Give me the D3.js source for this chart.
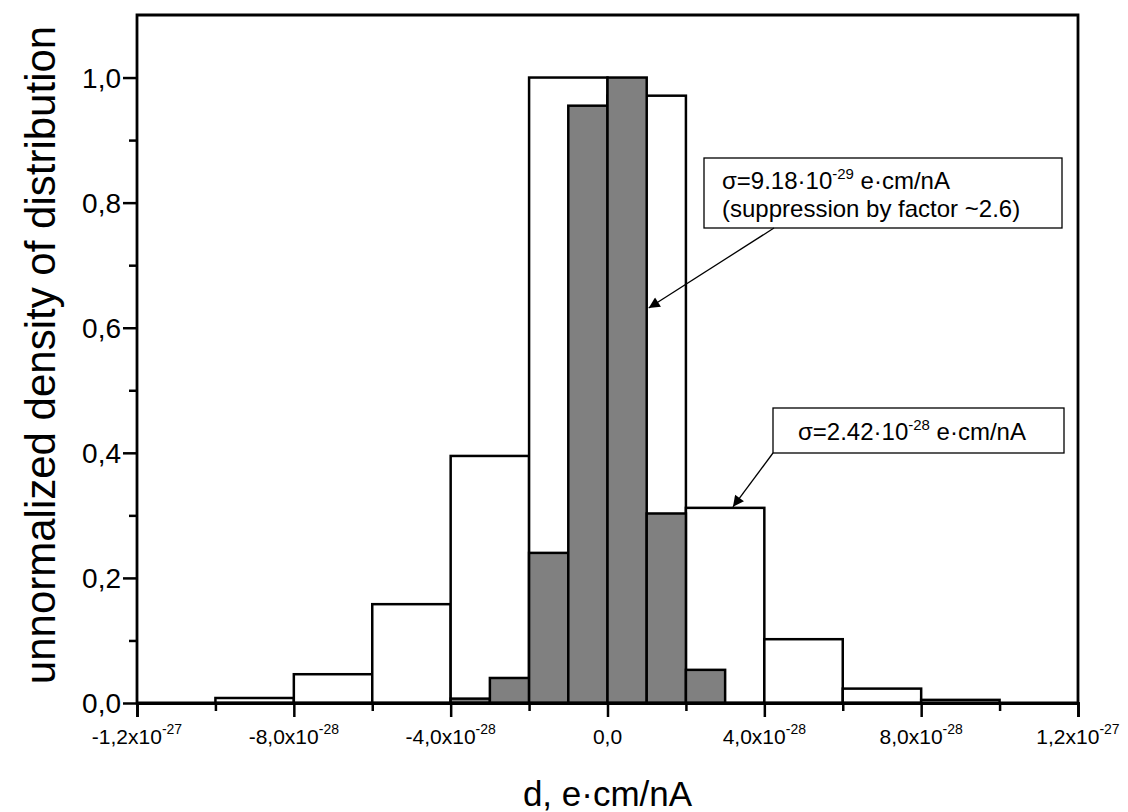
<!DOCTYPE html>
<html>
<head>
<meta charset="utf-8">
<script src="https://cdn.jsdelivr.net/npm/d3@7"></script>
<style>
html,body{margin:0;padding:0;background:#fff;}
svg{display:block;font-family:"Liberation Sans",Arial,sans-serif;}
</style>
</head>
<body>
<svg id="chart" width="1128" height="812"></svg>
<script>
// ---- data ----
const wideBinStart = [-10e-28, -8e-28, -6e-28, -4e-28, -2e-28, 0, 2e-28, 4e-28, 6e-28, 8e-28];
const wideBinValues = [0.008, 0.046, 0.158, 0.395, 1.0, 0.971, 0.312, 0.102, 0.023, 0.005];
const wideBinWidth = 2e-28;
const narrowBinStart = [-4e-28, -3e-28, -2e-28, -1e-28, 0, 1e-28, 2e-28];
const narrowBinValues = [0.007, 0.040, 0.240, 0.955, 1.0, 0.303, 0.053];
const narrowBinWidth = 1e-28;

const xTickValues = [-12e-28, -8e-28, -4e-28, 0, 4e-28, 8e-28, 12e-28];
const xTickMantissa = ["-1,2x10", "-8,0x10", "-4,0x10", "0,0", "4,0x10", "8,0x10", "1,2x10"];
const xTickExponent = ["-27", "-28", "-28", "", "-28", "-28", "-27"];
const xMinorTicks = [-10e-28, -6e-28, -2e-28, 2e-28, 6e-28, 10e-28];
const yTickValues = [0, 0.2, 0.4, 0.6, 0.8, 1.0];
const yTickLabels = ["0,0", "0,2", "0,4", "0,6", "0,8", "1,0"];
const yMinorTicks = [0.1, 0.3, 0.5, 0.7, 0.9];

const xTitle = "d, e·cm/nA";
const yTitle = "unnormalized density of distribution";
const note1Lines = [["σ=9.18·10", "-29", " e·cm/nA"], ["(suppression by factor ~2.6)", "", ""]];
const note2Lines = [["σ=2.42·10", "-28", " e·cm/nA"]];

// ---- layout ----
const svg = d3.select("#chart");
const L = 137, R = 1078, T = 15, B = 703;
const x = d3.scaleLinear().domain([-12e-28, 12e-28]).range([L, R]);
const y = d3.scaleLinear().domain([0, 1.1]).range([B, T]);

// bars: wide (white) then narrow (grey)
svg.append("g").selectAll("rect").data(wideBinStart).join("rect")
  .attr("x", d => x(d))
  .attr("width", d => x(d + wideBinWidth) - x(d))
  .attr("y", (d, i) => y(wideBinValues[i]))
  .attr("height", (d, i) => y(0) - y(wideBinValues[i]))
  .attr("fill", "#fff").attr("stroke", "#000").attr("stroke-width", 2.5);

svg.append("g").selectAll("rect").data(narrowBinStart).join("rect")
  .attr("x", d => x(d))
  .attr("width", d => x(d + narrowBinWidth) - x(d))
  .attr("y", (d, i) => y(narrowBinValues[i]))
  .attr("height", (d, i) => y(0) - y(narrowBinValues[i]))
  .attr("fill", "#808080").attr("stroke", "#000").attr("stroke-width", 2.5);

// frame
svg.append("path")
  .attr("d", `M${L},${B}V${T}H${R}V${B}Z`)
  .attr("fill", "none").attr("stroke", "#000").attr("stroke-width", 2.8);

// x axis
const xAxis = d3.axisBottom(x).tickValues(xTickValues).tickSize(14).tickFormat("");
const gx = svg.append("g").attr("transform", `translate(0,${B})`).call(xAxis);
gx.select(".domain").attr("stroke-width", 2.8);
gx.selectAll(".tick line").attr("stroke-width", 2.5);
const gxm = svg.append("g").attr("transform", `translate(0,${B})`)
  .call(d3.axisBottom(x).tickValues(xMinorTicks).tickSize(8).tickFormat(""));
gxm.select(".domain").remove();
gxm.selectAll(".tick line").attr("stroke-width", 2.5);

const xl = svg.append("g").selectAll("text").data(xTickValues).join("text")
  .attr("x", d => x(d)).attr("y", 744)
  .attr("text-anchor", "middle").attr("font-size", 21).attr("fill", "#000");
xl.append("tspan").text((d, i) => xTickMantissa[i]);
xl.append("tspan").attr("dy", -10).attr("font-size", 14).text((d, i) => xTickExponent[i]);

// y axis
const yAxis = d3.axisLeft(y).tickValues(yTickValues).tickSize(14).tickFormat("");
const gy = svg.append("g").attr("transform", `translate(${L},0)`).call(yAxis);
gy.select(".domain").remove();
gy.selectAll(".tick line").attr("stroke-width", 2.5);
const gym = svg.append("g").attr("transform", `translate(${L},0)`)
  .call(d3.axisLeft(y).tickValues(yMinorTicks).tickSize(8).tickFormat(""));
gym.select(".domain").remove();
gym.selectAll(".tick line").attr("stroke-width", 2.5);

svg.append("g").selectAll("text").data(yTickValues).join("text")
  .attr("x", 121).attr("y", d => y(d) + 10)
  .attr("text-anchor", "end").attr("font-size", 28).attr("fill", "#000")
  .text((d, i) => yTickLabels[i]);

// titles
svg.append("text").attr("x", x(0)).attr("y", 806)
  .attr("text-anchor", "middle").attr("font-size", 35).text(xTitle);
svg.append("text").attr("transform", "translate(55,355) rotate(-90)")
  .attr("text-anchor", "middle").attr("font-size", 42).text(yTitle);

// annotations
const defs = svg.append("defs");
defs.append("marker").attr("id", "ah").attr("viewBox", "0 0 10 10")
  .attr("refX", 10).attr("refY", 5).attr("markerWidth", 20).attr("markerHeight", 11)
  .attr("markerUnits", "userSpaceOnUse").attr("orient", "auto")
  .append("path").attr("d", "M0,0L10,5L0,10Z").attr("fill", "#000");

function note(box, lines, lineX, baseY, lh, from, to) {
  svg.append("rect").attr("x", box[0]).attr("y", box[1])
    .attr("width", box[2] - box[0]).attr("height", box[3] - box[1])
    .attr("fill", "#fff").attr("stroke", "#000").attr("stroke-width", 1.3);
  lines.forEach((ln, k) => {
    const t = svg.append("text").attr("x", lineX).attr("y", baseY + k * lh)
      .attr("font-size", 24).attr("fill", "#000");
    t.append("tspan").text(ln[0]);
    if (ln[1]) t.append("tspan").attr("dy", -10).attr("font-size", 15).text(ln[1]);
    if (ln[2]) t.append("tspan").attr("dy", ln[1] ? 10 : 0).text(ln[2]);
  });
  svg.append("line").attr("x1", from[0]).attr("y1", from[1])
    .attr("x2", to[0]).attr("y2", to[1])
    .attr("stroke", "#000").attr("stroke-width", 1.3).attr("marker-end", "url(#ah)");
}
note([704, 158, 1062, 228], note1Lines, 722, 189, 28, [774, 228], [x(1e-28) + 2, 308]);
note([773, 408, 1064, 453], note2Lines, 798, 440, 28, [773, 453], [x(3.2e-28), y(0.312) - 1]);
</script>
</body>
</html>
